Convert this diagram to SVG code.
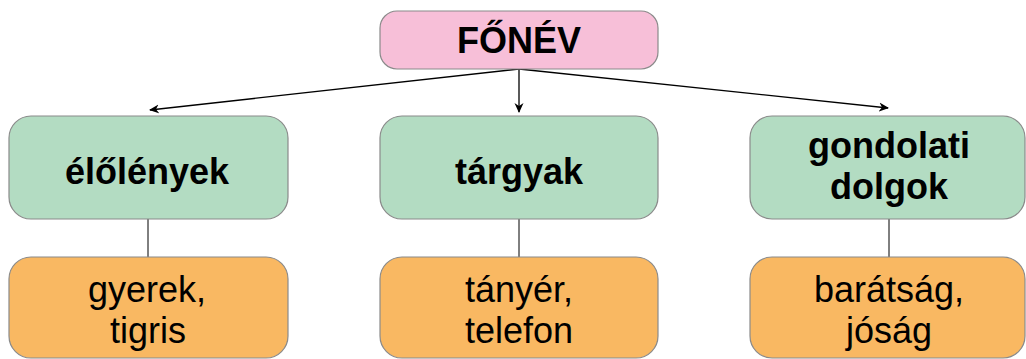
<svg xmlns="http://www.w3.org/2000/svg" width="1026" height="359" viewBox="0 0 1026 359">
<style>
.box{stroke:#8a8a8a;stroke-width:1.2}
.root{fill:#F7BFD8}
.cat{fill:#B3DCC2}
.ex{fill:#F9B862}
.b{font-family:"Liberation Sans",Arial,sans-serif;font-weight:bold;font-size:36px;fill:#000;text-anchor:middle}
.r{font-family:"Liberation Sans",Arial,sans-serif;font-size:36px;fill:#000;text-anchor:middle}
.arr{stroke:#000;stroke-width:1.3;fill:none;marker-end:url(#ah)}
.ln{stroke:#000;stroke-width:1;fill:none}
</style>
<defs>
<marker id="ah" viewBox="0 0 10 10" refX="9" refY="5" markerWidth="10" markerHeight="10" markerUnits="userSpaceOnUse" orient="auto">
<path d="M0,0.5 L10,5 L0,9.5 L3,5 z" fill="#000"/>
</marker>
</defs>
<g id="connectors">
<path class="arr" d="M519,69 L150,110"/>
<path class="arr" d="M519,69 L519,112"/>
<path class="arr" d="M519,69 L888,108"/>
<path class="ln" d="M148,219 L148,257"/>
<path class="ln" d="M519,219 L519,257"/>
<path class="ln" d="M889,219 L889,257"/>
</g>
<g id="fonev">
<rect class="box root" x="380" y="11" width="278" height="58" rx="17"/>
<text class="b" x="519" y="53">FŐNÉV</text>
</g>
<g id="elolenyek">
<rect class="box cat" x="9" y="116" width="279" height="103" rx="22"/>
<text class="b" x="147" y="184">élőlények</text>
</g>
<g id="targyak">
<rect class="box cat" x="380" y="116" width="278" height="103" rx="22"/>
<text class="b" x="519" y="184">tárgyak</text>
</g>
<g id="gondolati">
<rect class="box cat" x="750" y="116" width="275" height="103" rx="22"/>
<text class="b" x="889" y="158">gondolati</text>
<text class="b" x="889" y="199">dolgok</text>
</g>
<g id="pelda1">
<rect class="box ex" x="9" y="257" width="279" height="101" rx="22"/>
<text class="r" x="147" y="302">gyerek,</text>
<text class="r" x="148" y="343">tigris</text>
</g>
<g id="pelda2">
<rect class="box ex" x="380" y="257" width="278" height="101" rx="22"/>
<text class="r" x="519" y="302">tányér,</text>
<text class="r" x="519" y="343">telefon</text>
</g>
<g id="pelda3">
<rect class="box ex" x="750" y="257" width="275" height="101" rx="22"/>
<text class="r" x="889" y="302">barátság,</text>
<text class="r" x="889" y="343">jóság</text>
</g>
</svg>
